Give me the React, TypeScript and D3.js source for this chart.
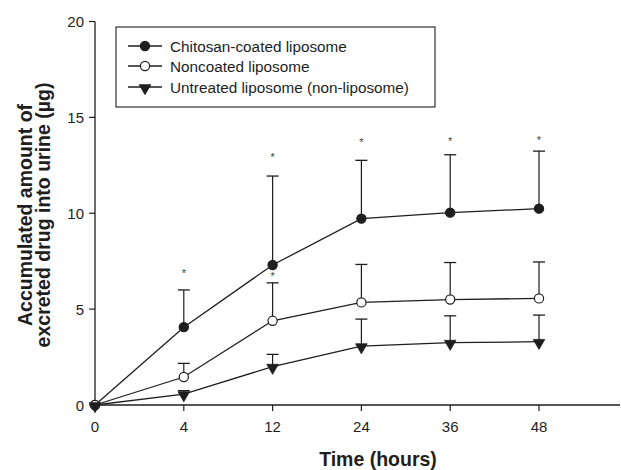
import React from "react";
import * as d3 from "d3";

const timeLabels = ["0", "4", "12", "24", "36", "48"];
const chitosan = [0, 4.06, 7.3, 9.72, 10.03, 10.24];
const chitosanErr = [0, 6.0, 11.94, 12.76, 13.05, 13.24];
const noncoated = [0, 1.46, 4.39, 5.35, 5.5, 5.56];
const noncoatedErr = [0, 2.17, 6.37, 7.33, 7.43, 7.46];
const untreated = [0, 0.57, 2.0, 3.07, 3.25, 3.3];
const untreatedErr = [0, 0.75, 2.64, 4.48, 4.65, 4.69];
const yTicks = [0, 5, 10, 15, 20];
// significance marks: [index, value]
const starsChitosan = [[1, 6.875], [2, 12.92], [3, 13.71], [4, 13.77], [5, 13.8]];
const starsNoncoated = [[2, 6.72]];
const legendLabels = [
  "Chitosan-coated liposome",
  "Noncoated liposome",
  "Untreated liposome (non-liposome)",
];

const W = 621;
const H = 470;
const FONT = "Arial, 'Liberation Sans', Helvetica, sans-serif";
const INK = "#1e1e1e";

export default function App() {
  const x = d3.scaleLinear().domain([0, 5]).range([95, 539]);
  const y = d3.scaleLinear().domain([0, 20]).range([405, 21.5]);
  const xEnd = 620;
  const line = d3
    .line<number>()
    .x((_, i) => x(i))
    .y((d) => y(d));
  const tri = d3.symbol().type(d3.symbolTriangle).size(58)() as string;

  const series = [
    { vals: chitosan, err: chitosanErr, kind: "filled" },
    { vals: noncoated, err: noncoatedErr, kind: "open" },
    { vals: untreated, err: untreatedErr, kind: "tri" },
  ];

  const marker = (kind: string, cx: number, cy: number, key: string) => {
    if (kind === "tri")
      return (
        <path
          key={key}
          d={tri}
          transform={`translate(${cx},${cy + 1}) rotate(180)`}
          fill={INK}
          stroke={INK}
          strokeWidth={0.8}
        />
      );
    return (
      <circle
        key={key}
        cx={cx}
        cy={cy}
        r={4.6}
        fill={kind === "filled" ? INK : "#fff"}
        stroke={INK}
        strokeWidth={1.2}
      />
    );
  };

  const legendX = 116;
  const legendY = 27;
  const rowY = [46, 66, 87];

  return (
    <svg
      width={W}
      height={H}
      style={{ position: "absolute", left: 0, top: 0, background: "#fff" }}
      fontFamily={FONT}
    >
      <rect x={0} y={0} width={W} height={H} fill="#fff" />
      {/* axes */}
      <line x1={95} x2={95} y1={y(20)} y2={y(0)} stroke={INK} strokeWidth={1.3} />
      <line x1={95} x2={xEnd} y1={y(0)} y2={y(0)} stroke={INK} strokeWidth={1.3} />
      {yTicks.map((t) => (
        <g key={"yt" + t}>
          <line x1={89} x2={95} y1={y(t)} y2={y(t)} stroke={INK} strokeWidth={1.2} />
          <text
            x={84}
            y={y(t)}
            textAnchor="end"
            dominantBaseline="central"
            fontSize={15}
            fill={INK}
          >
            {t}
          </text>
        </g>
      ))}
      {timeLabels.map((t, i) => (
        <g key={"xt" + t}>
          <line x1={x(i)} x2={x(i)} y1={y(0)} y2={y(0) + 6} stroke={INK} strokeWidth={1.2} />
          <text x={x(i)} y={432} textAnchor="middle" fontSize={15} fill={INK}>
            {t}
          </text>
        </g>
      ))}
      {/* titles */}
      <text x={378} y={466} textAnchor="middle" fontSize={19.5} fontWeight="bold" fill={INK}>
        Time (hours)
      </text>
      <g transform="translate(0,215) rotate(-90)">
        <text x={0} y={32} textAnchor="middle" fontSize={19.5} fontWeight="bold" fill={INK}>
          Accumulated amount of
        </text>
        <text x={0} y={50} textAnchor="middle" fontSize={19.5} fontWeight="bold" fill={INK}>
          excreted drug into urine (µg)
        </text>
      </g>
      {/* error bars */}
      {series.map((s, si) =>
        s.vals.map((v, i) =>
          i === 0 ? null : (
            <g key={`e${si}-${i}`}>
              <line x1={x(i)} x2={x(i)} y1={y(v)} y2={y(s.err[i])} stroke={INK} strokeWidth={1.2} />
              <line x1={x(i) - 6} x2={x(i) + 6} y1={y(s.err[i])} y2={y(s.err[i])} stroke={INK} strokeWidth={1.3} />
            </g>
          )
        )
      )}
      {/* lines */}
      {series.map((s, si) => (
        <path key={"l" + si} d={line(s.vals) as string} fill="none" stroke={INK} strokeWidth={1.3} />
      ))}
      {/* markers */}
      {series.map((s, si) => s.vals.map((v, i) => marker(s.kind, x(i), y(v), `m${si}-${i}`)))}
      {/* stars */}
      {[...starsChitosan, ...starsNoncoated].map(([i, v], k) => (
        <text
          key={"s" + k}
          x={x(i)}
          y={y(v) + 4}
          textAnchor="middle"
          fontSize={11}
          fill="#444"
        >
          *
        </text>
      ))}
      {/* legend */}
      <rect x={legendX} y={legendY} width={435 - legendX} height={107 - legendY} fill="#fff" stroke={INK} strokeWidth={1.1} />
      {legendLabels.map((lab, i) => (
        <g key={"lg" + i}>
          <line x1={128} x2={162} y1={rowY[i]} y2={rowY[i]} stroke={INK} strokeWidth={1.3} />
          {marker(series[i].kind, 145, rowY[i], "lm" + i)}
          <text x={170} y={rowY[i]} dominantBaseline="central" fontSize={15.3} fill={INK}>
            {lab}
          </text>
        </g>
      ))}
    </svg>
  );
}
